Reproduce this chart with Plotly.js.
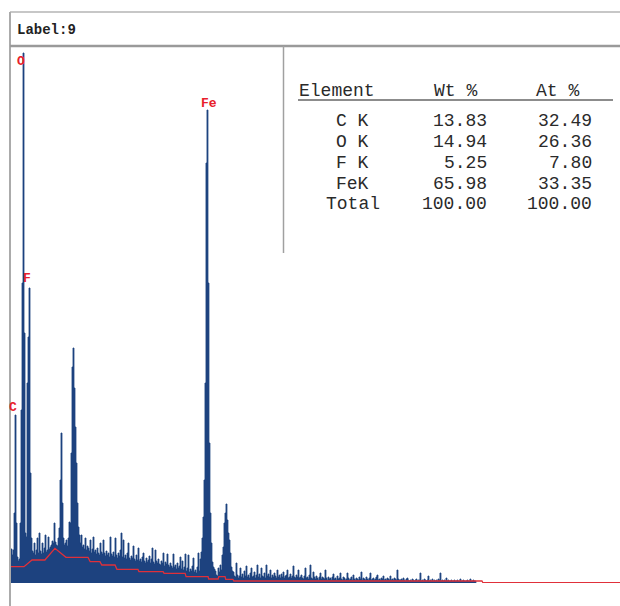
<!DOCTYPE html>
<html><head><meta charset="utf-8">
<script src="https://cdn.plot.ly/plotly-3.0.1.min.js"></script>
<style>html,body{margin:0;padding:0;background:#fff;overflow:hidden}#chart{width:620px;height:606px}</style>
</head><body><div id="chart"></div>
<script>
// ---- data ----
const headerLabel = 'Label:9';
// channel calibration of the spectrum (keV)
const chStartKeV = 0.13;
const chWidthKeV = 0.0318;
// counts per channel
const spectrumCounts = [
30,34,28,33,70,168,60,26,22,24,
60,173,300,530,250,50,46,200,246,295,
110,45,32,30,40,28,33,45,30,50,
32,29,40,30,35,48,31,33,46,34,
36,38,42,40,60,41,38,37,45,55,
103,150,80,45,38,40,43,37,45,61,
60,130,216,235,195,156,120,80,56,48,
40,48,36,38,34,45,33,37,35,32,
43,30,34,46,31,33,29,35,30,28,
40,31,29,43,30,27,32,28,30,26,
46,29,27,31,26,45,28,25,30,27,
33,50,26,43,25,28,24,30,40,25,
23,27,25,37,24,22,28,23,35,22,
24,21,26,30,22,20,25,21,23,27,
20,24,35,21,19,33,22,20,24,19,
18,22,20,30,17,21,19,29,18,16,
20,17,15,29,16,18,14,20,15,17,
26,14,22,13,16,29,12,15,28,11,
14,12,17,25,11,13,10,16,30,12,
24,31,45,66,103,200,420,473,300,140,
70,40,21,16,14,12,8,7,15,11,
18,13,28,36,60,70,79,63,50,43,
30,16,12,11,7,6,20,8,5,7,
15,6,9,5,12,7,17,6,8,5,
10,15,6,7,11,5,8,18,6,9,
5,15,7,6,10,5,18,7,9,6,
13,5,8,6,10,7,5,13,6,8,
5,9,6,11,5,7,8,13,5,6,
9,5,7,17,6,5,8,6,13,5,
6,8,5,4,7,15,5,6,4,8,
18,5,4,11,6,4,7,5,3,6,
10,4,6,5,4,13,5,3,6,4,
5,3,6,9,4,5,3,7,4,5,
10,4,3,6,5,3,4,10,5,3,
4,6,3,8,4,3,5,4,3,6,
4,11,3,5,4,3,6,4,3,5,
10,3,4,5,3,4,6,8,3,4,
3,5,4,7,3,4,3,5,4,3,
7,3,4,3,5,4,3,13,4,3,
3,4,3,5,3,2,4,5,3,2,
3,2,4,3,2,3,4,2,3,3,
10,2,3,2,4,3,2,3,7,2,
3,2,4,2,3,2,3,2,4,3,
10,2,3,2,3,2,5,2,3,2,
2,3,2,2,3,2,2,3,2,2,
4,2,2,3,2,2,2,3,2,2,
4,2,2,3,2,2,0
];
// fitted background (red line)
const bgEnergy = [0.13,0.575,0.83,1.24,1.56,1.91,2.61,2.68,2.99,3.05,3.47,3.53,4.20,4.23,5.00,5.03,5.70,5.73,6.43,6.45,6.75,6.77,6.97,6.99,7.22,7.25,15.14,15.17,19.53];
const bgCounts = [16.3,16.3,23,23,34.7,25.7,25.7,21.3,21.3,18,18,13.7,13.7,11.3,11.3,9.7,9.7,6.3,6.3,4,4,6.3,6.3,3.7,3.7,2,2,0.3,0.3];
// element peak markers
const peakLabels = ['O','F','C','Fe'];
const peakLabelEnergy = [0.47,0.66,0.235,6.45];
const peakLabelCounts = [522,305,176,480];
// quantification table
const tableHeader = ['Element','Wt %','At %'];
const tableElements = ['C K','O K','F K','FeK','Total'];
const tableWt = ['13.83','14.94','5.25','65.98','100.00'];
const tableAt = ['32.49','26.36','7.80','33.35','100.00'];

// ---- layout helpers (pixel -> paper) ----
const W = 620, H = 606, ML = 10, MR = 0, MT = 45, MB = 23;
const PW = W - ML - MR, PH = H - MT - MB;
const px = x => (x - ML) / PW;
const py = y => (H - MB - y) / PH;

const energies = spectrumCounts.map((_, i) => chStartKeV + i * chWidthKeV);

const traces = [
  {x: energies, y: spectrumCounts, type: 'scatter', mode: 'lines',
   line: {shape: 'hv', color: '#1d427f', width: 0.8},
   fill: 'tozeroy', fillcolor: '#1d427f', hoverinfo: 'skip'},
  {x: bgEnergy, y: bgCounts, type: 'scatter', mode: 'lines',
   line: {color: '#e0303a', width: 1.3}, hoverinfo: 'skip'}
];

const mono = 'Liberation Mono, Courier New, monospace';
const ann = [];
ann.push({xref:'paper', yref:'paper', x:px(15), y:py(30), xanchor:'left', yanchor:'middle',
  text:'<b>'+headerLabel+'</b>', showarrow:false, font:{family:mono, size:14, color:'#222'}});
peakLabels.forEach((t,i)=>ann.push({x:peakLabelEnergy[i], y:peakLabelCounts[i], xref:'x', yref:'y',
  text:'<b>'+t+'</b>', showarrow:false, xanchor:'center', yanchor:'middle',
  font:{family:mono, size:13, color:'#e8202a'}}));
const tf = {family:mono, size:18, color:'#2a2a2a'};
ann.push({xref:'paper', yref:'paper', x:px(297), y:py(91), xanchor:'left', yanchor:'middle', text:tableHeader[0], showarrow:false, font:tf});
ann.push({xref:'paper', yref:'paper', x:px(455), y:py(91), xanchor:'center', yanchor:'middle', text:tableHeader[1], showarrow:false, font:tf});
ann.push({xref:'paper', yref:'paper', x:px(557), y:py(91), xanchor:'center', yanchor:'middle', text:tableHeader[2], showarrow:false, font:tf});
tableElements.forEach((e,i)=>{
  const yy = py(121.5 + i*20.7);
  ann.push({xref:'paper', yref:'paper', x:px(352.5), y:yy, xanchor:'center', yanchor:'middle', text:e, showarrow:false, font:tf});
  ann.push({xref:'paper', yref:'paper', x:px(489), y:yy, xanchor:'right', yanchor:'middle', text:tableWt[i], showarrow:false, font:tf});
  ann.push({xref:'paper', yref:'paper', x:px(594), y:yy, xanchor:'right', yanchor:'middle', text:tableAt[i], showarrow:false, font:tf});
});

const L = (x0,y0,x1,y1,color,width)=>({type:'line', xref:'paper', yref:'paper',
  x0:px(x0), y0:py(y0), x1:px(x1), y1:py(y1), line:{color, width}, layer:'above'});
const shapes = [
  L(10,12,620,12,'#b4b4b4',1.5),
  L(10,12,10,606,'#ababab',2),
  L(10,46,620,46,'#9a9a9a',2.5),
  L(283.5,46,283.5,253,'#a0a0a0',1.5),
  L(298,100,613,100,'#8c8c8c',2)
];

const layout = {
  width: W, height: H, margin:{l:ML, r:MR, t:MT, b:MB, pad:0},
  paper_bgcolor:'#fff', plot_bgcolor:'#fff', showlegend:false,
  xaxis:{range:[0.13,19.53], visible:false, fixedrange:true},
  yaxis:{range:[0,538], visible:false, fixedrange:true},
  annotations: ann, shapes: shapes
};
Plotly.newPlot('chart', traces, layout, {displayModeBar:false, staticPlot:true});
</script></body></html>
